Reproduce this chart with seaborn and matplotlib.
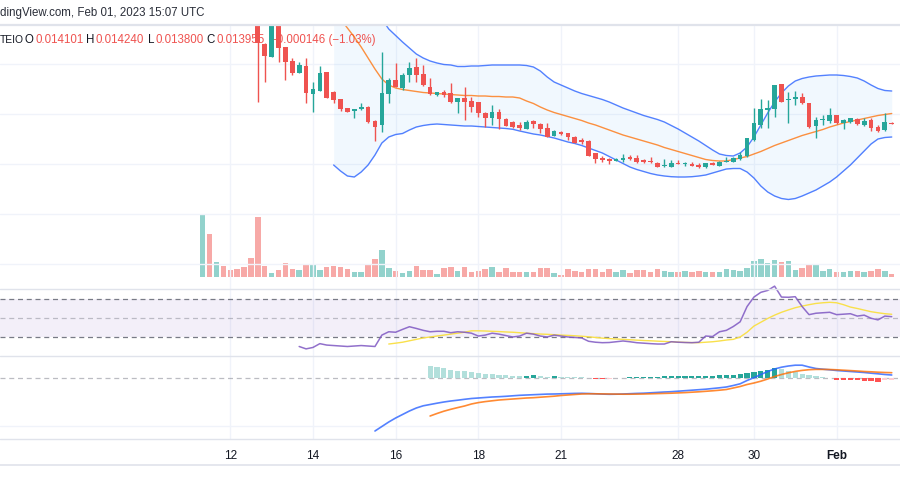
import numpy as np
import matplotlib
matplotlib.use("Agg")
import matplotlib.pyplot as plt
import seaborn as sns
from matplotlib.lines import Line2D

# ---------------- data (prices in units of 1e-5) ----------------
opens = [1540, 1600, 1555, 1570, 1550, 1535, 1520, 1506, 1498, 1470,
         1457, 1492, 1467, 1453, 1441, 1448, 1420, 1423, 1442, 1422,
         1415, 1406, 1403, 1405, 1407, 1393, 1389, 1420, 1434, 1426,
         1439, 1447, 1440, 1427, 1419, 1422, 1421, 1412, 1416, 1413,
         1412, 1401, 1396, 1402, 1395, 1392, 1389, 1385, 1393, 1390,
         1386, 1378, 1382, 1381, 1377, 1374, 1373, 1361, 1356, 1355,
         1353, 1354, 1357, 1356, 1354, 1352.5, 1351, 1347.5, 1347, 1351,
         1350, 1350, 1349, 1347, 1351, 1348, 1352, 1352, 1355, 1358,
         1374, 1389, 1404, 1405, 1430, 1414, 1415, 1417, 1411, 1388,
         1394, 1393, 1399, 1391, 1392, 1395, 1389, 1394, 1387, 1384,
         1391]
highs = [1620, 1610, 1580, 1575, 1560, 1545, 1530, 1515, 1508, 1471,
         1498, 1496, 1467, 1456, 1452, 1456, 1432, 1448, 1442, 1423,
         1415, 1406, 1405, 1411, 1408, 1394, 1462, 1436, 1451, 1441,
         1452, 1456, 1449, 1436, 1422, 1424, 1431, 1416, 1427, 1417,
         1412, 1402, 1409, 1405, 1396, 1393, 1392, 1394, 1394, 1391,
         1391, 1384, 1383, 1381, 1378, 1376, 1374, 1361, 1358, 1356,
         1356, 1360, 1359, 1359, 1355, 1357, 1352, 1355, 1354, 1354,
         1352, 1352, 1351, 1351, 1352, 1353, 1357, 1357, 1362, 1376,
         1406, 1415, 1414, 1429, 1430, 1422, 1423, 1421, 1411, 1397,
         1399, 1406, 1399, 1395, 1396, 1396, 1396, 1396, 1389, 1401,
         1392]
lows = [1530, 1545, 1540, 1545, 1530, 1515, 1502, 1494, 1412, 1432,
        1457, 1452, 1434, 1439, 1441, 1411, 1402, 1423, 1416, 1411,
        1403, 1402, 1396, 1404, 1391, 1373, 1382, 1411, 1427, 1424,
        1432, 1432, 1428, 1419, 1418, 1417, 1411, 1401, 1394, 1402,
        1397, 1387, 1389, 1385, 1388, 1386, 1384, 1385, 1386, 1381,
        1377, 1378, 1379, 1374, 1371, 1370, 1358, 1351, 1352, 1350,
        1353, 1352, 1354, 1351, 1351, 1351, 1347, 1347, 1347, 1350,
        1348, 1348, 1346, 1346, 1349, 1348, 1352, 1352, 1354, 1357,
        1373, 1386, 1386, 1397, 1412, 1391, 1409, 1410, 1386, 1376,
        1389, 1391, 1390, 1385, 1391, 1389, 1388, 1383, 1382, 1383,
        1390]
closes = [1600, 1555, 1570, 1550, 1535, 1520, 1506, 1498, 1471, 1458,
          1492, 1466, 1452, 1441, 1449, 1421, 1425, 1441, 1416, 1414,
          1405, 1402, 1405, 1407, 1392, 1387, 1421, 1434, 1427, 1439,
          1446, 1439, 1429, 1420, 1422, 1419, 1412, 1416, 1412, 1407,
          1401, 1396, 1402, 1395, 1388, 1387, 1386, 1392, 1390, 1385,
          1377, 1383, 1380, 1377, 1371, 1372, 1358, 1355, 1354, 1353,
          1355, 1356, 1355, 1352, 1352, 1351.5, 1347, 1348.5, 1351, 1350,
          1351, 1348, 1347, 1351, 1349, 1352, 1353, 1356, 1359, 1376,
          1391, 1405, 1406, 1429, 1412, 1415, 1417, 1411, 1387, 1394,
          1395, 1399, 1391, 1394, 1396, 1390, 1393, 1386, 1383, 1392,
          1390]
volume = [62.7, 42.7, 14.7, 11, 6.7, 8, 10, 18.7, 60, 11,
          4, 6.7, 13.7, 8, 7, 12.7, 11.7, 6.7, 10, 10.7,
          10, 8, 5, 5, 11.7, 17.7, 27, 9, 6, 4,
          5.7, 10.7, 7, 7, 3, 9, 10, 6, 10, 5,
          6, 8, 10, 5, 9, 5, 5, 5, 5, 9,
          9, 4, 2, 8, 6, 5, 8, 8, 5, 8,
          5, 7, 4, 7, 7, 5, 8, 6, 5, 5,
          6, 5, 6, 5, 5, 5, 8, 7, 6, 9,
          15.7, 18.3, 13.7, 16.7, 14.7, 15.7, 7, 9, 11.7, 13,
          6, 8, 5, 5, 6, 6, 5, 6, 8, 6,
          3]

# Bollinger bands (from bar index 19)
bb_upper = [1658, 1647, 1634, 1617, 1592, 1563, 1531, 1495, 1485, 1478.5,
            1472, 1466, 1460, 1456, 1453, 1451, 1449.5, 1449, 1447.5, 1447.5,
            1448, 1448, 1448.5, 1449, 1449, 1449, 1449, 1449, 1448.5, 1447,
            1443, 1437, 1432, 1429, 1426, 1423, 1420.5, 1418.5, 1416.5, 1414.5,
            1412, 1409, 1406, 1403.5, 1401, 1398.5, 1396.5, 1394.5, 1392, 1388.5,
            1385, 1381, 1377, 1373, 1368.5, 1364, 1360, 1358.5, 1358, 1361,
            1367, 1377, 1389, 1401, 1412, 1421, 1428, 1433, 1435.5, 1437,
            1438, 1438.5, 1439, 1439, 1438.5, 1437.5, 1436, 1433, 1429, 1425.5,
            1423.5, 1423]
bb_mid = [1503.5, 1495, 1486, 1477, 1467, 1456, 1445, 1435, 1429, 1426,
          1424.5, 1423.5, 1422.5, 1421.5, 1421, 1420.5, 1420, 1419.5, 1419, 1418.5,
          1418.5, 1418, 1418, 1417.5, 1417.5, 1417, 1417, 1416, 1413, 1410.5,
          1407, 1404, 1401.5, 1399.5, 1397.5, 1395.5, 1393.5, 1391, 1389, 1386.5,
          1384, 1381.5, 1379, 1377, 1375, 1373, 1371, 1369, 1366.5, 1364.5,
          1362.5, 1360.5, 1358.5, 1356.5, 1354.5, 1353.5, 1353, 1353, 1354.5, 1356,
          1357.5, 1360, 1362.5, 1365.5, 1368.5, 1371, 1373.5, 1376, 1378.5, 1380.5,
          1382.5, 1384.5, 1387, 1389, 1391, 1392.5, 1394, 1395.5, 1397, 1398.5,
          1399.5, 1400.5]
bb_lower = [1349, 1343, 1338, 1337, 1342, 1349, 1359, 1371, 1377, 1379.5,
            1380.5, 1384, 1387, 1388.5, 1389.5, 1390, 1389.5, 1389, 1388.5, 1388,
            1388, 1387.5, 1387, 1386.5, 1386, 1385.5, 1384.7, 1383, 1381.5, 1380,
            1379, 1377.5, 1376, 1374, 1372, 1370.5, 1368.5, 1366, 1363.5, 1361,
            1357.5, 1354, 1350.5, 1347, 1344.5, 1342.5, 1340.5, 1339, 1338, 1337.3,
            1337, 1337, 1337.3, 1338, 1339, 1341, 1343, 1345, 1345.5, 1345.5,
            1342, 1336, 1328, 1322, 1318, 1315.5, 1314.5, 1315.5, 1318, 1321,
            1324, 1328, 1332, 1337, 1343, 1349, 1356, 1363, 1370, 1375,
            1376.5, 1377]

# RSI (from bar index 14) and its moving average (from bar index 27)
rsi = [20, 17.5, 19, 23, 21.5, 21, 20.5, 20, 20.5, 21,
       20.5, 20, 32, 35.5, 35, 38, 40.8, 39, 37, 35.5,
       36, 36, 34.5, 35.5, 35, 34, 31, 32, 34, 33,
       31.5, 30, 31, 34, 33, 31, 30, 32, 31, 30,
       29.5, 29, 25.5, 24.5, 24, 24.2, 25, 25.8, 25, 24,
       23.5, 23, 22.6, 22.6, 25, 24.5, 24.2, 24, 24.5, 31,
       30.5, 35.5, 37, 41, 46, 62, 72, 77, 79, 83.5,
       72, 71.8, 72.4, 62, 53.5, 55, 55.5, 56, 53.5, 54,
       54.5, 52, 53, 49.7, 48, 52, 51.4]
rsi_ma = [22.6, 23.5, 24.5, 26, 27.5, 29, 30, 31, 32, 33,
          34, 35, 36.5, 36.5, 36.3, 36, 35.7, 35.3, 35, 34.5,
          34, 33.5, 33.1, 32.8, 32.4, 32, 31.7, 31.3, 30.8, 30.2,
          29.5, 28.8, 28.3, 27.9, 27.5, 27.1, 26.7, 26.3, 26, 25.6,
          25.3, 25, 24.6, 24.3, 24.1, 24, 24.5, 25, 25.8, 26.8,
          27.5, 30, 35, 41.5, 45.5, 49.5, 53, 56, 58.5, 60.8,
          62.5, 64, 65.3, 66, 66.5, 66, 64, 61.5, 60, 58.3,
          56.6, 55.5, 54.5, 53.9]

# MACD (units of 1e-5): line from bar index 25, signal & histogram from 33
macd = [-53, -48.5, -44, -40, -36.5, -33, -30, -27.8, -26.5, -25.2,
        -24, -23, -22.2, -21.3, -20.5, -20, -19.5, -19, -18.7, -18.3,
        -17.8, -17.3, -17, -16.7, -16.4, -16.1, -16, -15.8, -15.6, -15.4,
        -15.3, -15.5, -15.8, -16.1, -16.3, -16.2, -16, -15.7, -15.4, -15.2,
        -14.8, -14.4, -14, -13.7, -13.2, -12.7, -12.2, -11.7, -11.2, -10.5,
        -9.8, -9, -7.5, -5.8, -2.5, 0.3, 3.5, 6.5, 9, 10.8,
        12, 12.8, 12.8, 11, 9.5, 8.8, 8.2, 7.5, 7, 6.5,
        6, 5.5, 4.8, 4.2, 3.5, 3]
signal = [-38, -35.5, -33.2, -31.3, -29.6, -28, -26, -24.6, -23.6, -22.8,
          -22, -21.5, -21, -20.5, -20, -19.7, -19.2, -18.7, -18.2, -17.5,
          -17, -16.5, -16, -15.8, -15.8, -15.9, -16, -16.1, -16.2, -16.2,
          -16.1, -16, -15.8, -15.6, -15.4, -15.2, -14.9, -14.6, -14.2, -13.8,
          -13.3, -12.8, -12.2, -11.5, -10, -8.5, -6.5, -5, -3.2, -1,
          1.5, 3.5, 5.2, 6.6, 7.6, 8.3, 8.6, 8.6, 8.5, 8.2,
          7.8, 7.4, 7, 6.5, 6.2, 5.8, 5.5, 5.3]
hist = [12, 11, 10.3, 8.3, 7.3, 6.8, 5.7, 5, 4.3, 4,
        3.5, 3.2, 2.4, 2.2, 2.5, 2.6, 2, 1.5, 1.8, 1.3,
        1.2, 1, 0.8, 0.4, -0.8, -1, -0.8, 0.3, 0.5, 0.6,
        1, 1.2, 1.3, 1.5, 1.6, 1.7, 1.8, 2, 2.1, 2.2,
        2.3, 2.5, 2.7, 3, 3.5, 4, 5.5, 6.5, 7.3, 8.5,
        9.8, 9.3, 7.5, 5.8, 4.5, 3, 2, 1.2, -0.4, -1.5,
        -1.7, -2, -2.3, -2.6, -2.8, -3.8, -2.2, -1.8]

BB_START, RSI_START, MA_START, MACD_START, SIG_START = 19, 14, 27, 25, 33

tick_pos = [4, 16, 28, 40, 52, 69, 80, 92]
tick_labels = ["12", "14", "16", "18", "21", "28", "30", "Feb"]

header_text = "dingView.com, Feb 01, 2023 15:07 UTC"
# (text, x pixel, colour, font size)
legend_parts = [("TEIO", 0, "#131722", 7.4), ("O", 24.5, "#131722", 8.3),
                ("0.014101", 35, "#ef5350", 8.3),
                ("H", 86, "#131722", 8.3), ("0.014240", 96, "#ef5350", 8.3),
                ("L", 148, "#131722", 8.3), ("0.013800", 156, "#ef5350", 8.3),
                ("C", 206, "#131722", 8.3), ("0.013955", 216.5, "#ef5350", 8.3),
                ("\u22120.000146 (\u22121.03%)", 270, "#ef5350", 8.3)]

# ---------------- style ----------------
sns.set_theme(style="white")
plt.rcParams['font.family'] = ['Liberation Sans', 'DejaVu Sans']

UP, DOWN = "#26a69a", "#ef5350"
VUP, VDOWN = "#92d2cc", "#f7a9a7"
GRID = "#f0f3fa"
SEP = "#e0e3eb"
S = 1e-5

W, H = 900, 500
fig = plt.figure(figsize=(9, 5), dpi=100)
fig.patch.set_facecolor("white")


def rect(top, bottom):
    return [0, 1 - bottom / H, 1, (bottom - top) / H]


ax_p = fig.add_axes(rect(26, 289))
ax_v = ax_p.twinx()
ax_r = fig.add_axes(rect(289, 356), sharex=ax_p)
ax_m = fig.add_axes(rect(356, 439), sharex=ax_p)

ax_v.set_zorder(ax_p.get_zorder() - 1)
ax_p.patch.set_visible(False)

n = len(opens)
x = np.arange(n)
o = np.array(opens) * S
h = np.array(highs) * S
l = np.array(lows) * S
c = np.array(closes) * S
up = c >= o
ccol = np.where(up, UP, DOWN)
vcol = np.where(up, VUP, VDOWN)

# grid
for ax in (ax_p, ax_r, ax_m):
    for t in tick_pos:
        ax.axvline(t, color=GRID, lw=1.0, zorder=0)
for g in (1450, 1400, 1350, 1300, 1250):
    ax_p.axhline(g * S, color=GRID, lw=1.0, zorder=0)
ax_m.axhline(-48 * S, color=GRID, lw=1.0, zorder=0)

# volume
ax_v.bar(x, volume, width=0.8, color=vcol, linewidth=0, zorder=1)
ax_v.set_ylim(-12, 251)

# Bollinger bands
xb = np.arange(BB_START, BB_START + len(bb_mid))
ub = np.array(bb_upper) * S
mb = np.array(bb_mid) * S
lb = np.array(bb_lower) * S
ax_p.fill_between(xb, lb, ub, color="#2196f3", alpha=0.06, lw=0, zorder=1)
sns.lineplot(x=xb, y=ub, ax=ax_p, color="#2962ff", lw=1.0, alpha=0.8, zorder=2)
sns.lineplot(x=xb, y=lb, ax=ax_p, color="#2962ff", lw=1.0, alpha=0.8, zorder=2)
sns.lineplot(x=xb, y=mb, ax=ax_p, color="#ff6d00", lw=1.0, alpha=0.75, zorder=2)

# legend text (drawn under the candles)
fig_tr = fig.transFigure
for txt, px, col, fs in legend_parts:
    ax_p.text(px / W, 1 - 40 / H, txt, transform=fig_tr, color=col, fontsize=fs,
              va="center", ha="left", zorder=1.5, clip_on=False)

# candles
ax_p.vlines(x, l, h, colors=ccol, lw=1.0, zorder=3)
body_lo = np.minimum(o, c)
body_h = np.maximum(np.abs(c - o), 0.9 * S)
ax_p.bar(x, body_h, bottom=body_lo, width=0.68, color=ccol, linewidth=0, zorder=4)
ax_p.set_ylim(1225 * S, 1488 * S)

# RSI
ax_r.axhspan(30, 70, color="#7e57c2", alpha=0.09, lw=0, zorder=0)
ax_r.axhline(70, color="#787b86", lw=0.9, ls=(0, (4, 3)), zorder=1)
ax_r.axhline(30, color="#787b86", lw=0.9, ls=(0, (4, 3)), zorder=1)
ax_r.axhline(50, color="#787b86", lw=0.9, ls=(0, (4, 3)), alpha=0.45, zorder=1)
xr = np.arange(RSI_START, RSI_START + len(rsi))
xma = np.arange(MA_START, MA_START + len(rsi_ma))
sns.lineplot(x=xma, y=rsi_ma, ax=ax_r, color="#f9e04b", lw=1.0, zorder=2)
sns.lineplot(x=xr, y=rsi, ax=ax_r, color="#7e57c2", lw=1.1, alpha=0.85, zorder=3, clip_on=False)
ax_r.set_ylim(10, 80.5)

# MACD
ax_m.axhline(0, color="#787b86", lw=0.9, ls=(0, (4, 3)), alpha=0.5, zorder=1)
xs = np.arange(SIG_START, SIG_START + len(hist))
hcol = []
prev = None
for v in hist:
    p = v if prev is None else prev
    if v >= 0:
        hcol.append("#26a69a" if v > p else "#b2dfdb")
    else:
        hcol.append("#ff5252" if v < p else "#ffcdd2")
    prev = v
ax_m.bar(xs, np.array(hist) * S, width=0.75, color=hcol, linewidth=0, zorder=2)
xm = np.arange(MACD_START, MACD_START + len(macd))
sns.lineplot(x=xm, y=np.array(macd) * S, ax=ax_m, color="#2962ff", lw=1.2, alpha=0.8, zorder=3)
sns.lineplot(x=xs, y=np.array(signal) * S, ax=ax_m, color="#ff6d00", lw=1.2, alpha=0.8, zorder=3)
ax_m.set_ylim(-61 * S, 22 * S)

# axes cosmetics
ax_p.set_xlim(-29.42, 101.2)
for ax in (ax_p, ax_v, ax_r, ax_m):
    for sp in ax.spines.values():
        sp.set_visible(False)
    ax.set_yticks([])
    ax.set_ylabel("")
    ax.set_xlabel("")
    ax.tick_params(axis="x", length=0)
ax_p.tick_params(labelbottom=False)
ax_r.tick_params(labelbottom=False)
ax_m.set_xticks(tick_pos)
ax_m.set_xticklabels(tick_labels)
ax_m.tick_params(axis="x", pad=8, labelsize=8.5, labelcolor="#131722")
for lab in ax_m.get_xticklabels():
    if lab.get_text() == "Feb":
        lab.set_fontweight("bold")

# header and separators
fig.text(0.0, 1 - 13 / H, header_text, ha="left", va="center", fontsize=8.3, color="#2a2e39")
for yy, lw in ((25, 1.6), (289, 1.0), (356, 1.0), (439, 1.0), (465, 1.2)):
    fig.add_artist(Line2D([0, 1], [1 - yy / H, 1 - yy / H], transform=fig.transFigure,
                          color=SEP, lw=lw))

fig.savefig("out.png", dpi=100, facecolor="white")
